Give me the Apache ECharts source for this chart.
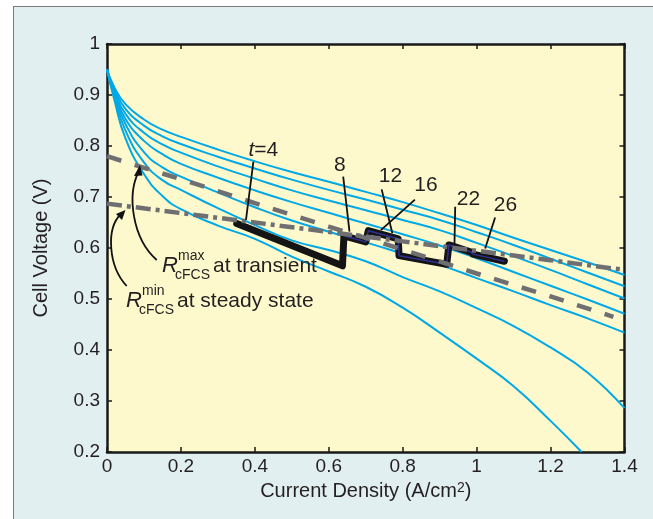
<!DOCTYPE html>
<html><head><meta charset="utf-8">
<script src="https://cdn.jsdelivr.net/npm/echarts@6/dist/echarts.min.js"></script>
<style>
html,body{margin:0;padding:0;background:#fff;width:653px;height:519px;overflow:hidden;position:relative}
#frame{position:absolute;left:13px;top:6px;width:700px;height:600px;background:#e2eff1;border:1px solid #7a7a7a;box-sizing:border-box}
#c{position:absolute;left:0;top:0;width:653px;height:519px}
</style>
</head><body><div id="frame"></div><div id="c"></div><script>
// ---- data ----
const xs = [0,0.02,0.05,0.1,0.15,0.2,0.3,0.4,0.5,0.6,0.7,0.8,0.9,1.0,1.1,1.2,1.3,1.4];
const curve1 = [0.95,0.915,0.882,0.852,0.832,0.818,0.793,0.770,0.749,0.730,0.710,0.690,0.668,0.645,0.620,0.596,0.572,0.547];
const curve2 = [0.95,0.911,0.873,0.840,0.819,0.804,0.779,0.756,0.734,0.714,0.695,0.675,0.655,0.631,0.606,0.579,0.552,0.525];
const curve3 = [0.95,0.907,0.863,0.826,0.803,0.787,0.760,0.736,0.713,0.693,0.674,0.655,0.635,0.610,0.584,0.557,0.529,0.501];
const curve4 = [0.95,0.903,0.853,0.810,0.784,0.765,0.738,0.713,0.690,0.669,0.648,0.627,0.605,0.580,0.553,0.526,0.499,0.471];
const curve5 = [0.95,0.900,0.843,0.788,0.758,0.740,0.709,0.680,0.654,0.632,0.611,0.589,0.567,0.541,0.515,0.488,0.462,0.434];
const curve6 = [0.95,0.895,0.830,0.768,0.733,0.714,0.678,0.645,0.615,0.596,0.574,0.543,0.515,0.482,0.447,0.405,0.356,0.286];
const xs7 = [0,0.02,0.05,0.1,0.15,0.2,0.3,0.4,0.5,0.6,0.7,0.8,0.9,1.0,1.1,1.2,1.284];
const curve7 = [0.95,0.890,0.815,0.745,0.702,0.676,0.644,0.618,0.583,0.554,0.524,0.483,0.434,0.383,0.329,0.261,0.2];

const maxTransX = [0,0.1,0.2,0.4,0.6,0.8,1.0,1.2,1.37];
const maxTransV = [0.780,0.757,0.735,0.688,0.642,0.597,0.550,0.505,0.465];
const minSteadyX = [0,0.4,0.8,1.2,1.4];
const minSteadyV = [0.687,0.650,0.613,0.576,0.557];

const trajX = [0.351,0.637,0.641,0.700,0.707,0.788,0.790,0.919,0.925,0.985,0.990,1.075];
const trajV = [0.648,0.565,0.624,0.612,0.634,0.618,0.585,0.568,0.606,0.592,0.588,0.574];

const xTicks = [0,0.2,0.4,0.6,0.8,1,1.2,1.4];
const yTicks = [0.2,0.3,0.4,0.5,0.6,0.7,0.8,0.9,1];

// labels of time instants with leader lines (data coords)
const tLabels = ['t=4','8','12','16','22','26'];
const tLabelPos = [[0.423,0.792],[0.630,0.762],[0.767,0.741],[0.863,0.723],[0.978,0.696],[1.078,0.683]];
const tLeaders = [
  [[0.396,0.769],[0.376,0.655]],
  [[0.639,0.740],[0.656,0.632]],
  [[0.743,0.715],[0.772,0.629]],
  [[0.833,0.695],[0.741,0.635]],
  [[0.942,0.681],[0.940,0.606]],
  [[1.050,0.660],[1.023,0.599]]
];

const FONT = '"Liberation Sans", Arial, Helvetica, sans-serif';
const BLUE = '#00a9e6';
const GREY = '#6f6f71';

const zip = (a,b)=>a.map((x,i)=>[x,b[i]]);
const chart = echarts.init(document.getElementById('c'), null, {renderer:'canvas'});

const blueSeries = [curve1,curve2,curve3,curve4,curve5,curve6].map(c=>({
  type:'line', data: zip(xs,c), smooth:0.5, symbol:'none',
  lineStyle:{color:BLUE,width:2}, z:2, silent:true
}));
blueSeries.push({type:'line', data: zip(xs7,curve7), smooth:0.5, symbol:'none',
  lineStyle:{color:BLUE,width:2}, z:2, silent:true});

const leaderSeries = tLeaders.map(l=>({type:'line', data:l, symbol:'none', lineStyle:{color:'#111',width:1.8}, z:6, silent:true}));

const axisCommon = {
  type:'value', splitLine:{show:false},
  axisLine:{show:true, onZero:false, lineStyle:{color:'#1a1a1a', width:2.5}},
  axisTick:{show:true, inside:true, length:5, lineStyle:{color:'#1a1a1a', width:1.5}}
};

chart.setOption({
  animation:false,
  grid:{left:107, top:44, width:517.5, height:408, show:true, backgroundColor:'#fef9cc', borderWidth:0},
  xAxis:[
    Object.assign({}, axisCommon, {min:0, max:1.4, interval:0.2, position:'bottom',
      axisLabel:{fontFamily:FONT, fontSize:19, color:'#231f20', margin:5, formatter:v=>String(+v.toFixed(1))},
      name:'{a|Current Density (A/cm}{s|2}{a|)}', nameLocation:'middle', nameGap:27,
      nameTextStyle:{rich:{a:{fontFamily:FONT, fontSize:20, color:'#231f20'}, s:{fontFamily:FONT, fontSize:14, color:'#231f20', padding:[0,0,8,0]}}}
    }),
    Object.assign({}, axisCommon, {min:0, max:1.4, interval:0.2, position:'top', axisLabel:{show:false}})
  ],
  yAxis:[
    Object.assign({}, axisCommon, {min:0.2, max:1, interval:0.1, position:'left',
      axisLabel:{fontFamily:FONT, fontSize:19, color:'#231f20', margin:7, formatter:v=>String(+v.toFixed(1))},
      name:'Cell Voltage (V)', nameLocation:'middle', nameGap:56,
      nameTextStyle:{fontFamily:FONT, fontSize:20, color:'#231f20'}
    }),
    Object.assign({}, axisCommon, {min:0.2, max:1, interval:0.1, position:'right', axisLabel:{show:false}})
  ],
  series: blueSeries.concat([
    {type:'line', data: zip(trajX,trajV), symbol:'none', lineStyle:{color:'#141414', width:7, join:'round', cap:'round'}, z:3, silent:true},
    {type:'line', data: zip(trajX.slice(2),trajV.slice(2)), symbol:'none', lineStyle:{color:'#2e3192', width:1.5, join:'round'}, z:4, silent:true},
    {type:'line', data: zip(maxTransX,maxTransV), symbol:'none', lineStyle:{color:GREY, width:4.5, type:[15,14]}, z:5, silent:true},
    {type:'line', data: zip(minSteadyX,minSteadyV), symbol:'none', lineStyle:{color:GREY, width:4.5, type:[15,5,4,5]}, z:5, silent:true}
  ]).concat(leaderSeries)
});

// annotation texts
const g = [];
tLabels.forEach((t,i)=>{
  const p = chart.convertToPixel({gridIndex:0}, tLabelPos[i]);
  if (t.startsWith('t=')) {
    g.push({type:'text', x:p[0], y:p[1], style:{text:'{i|t}{n|=4}', align:'center', verticalAlign:'middle',
      rich:{i:{fontFamily:FONT, fontSize:21, fontStyle:'italic', fill:'#231f20'}, n:{fontFamily:FONT, fontSize:21, fill:'#231f20'}}}, z:10});
  } else {
    g.push({type:'text', x:p[0], y:p[1], style:{text:t, font:'21px '+FONT, fill:'#231f20', align:'center', verticalAlign:'middle'}, z:10});
  }
});
function rlabel(x, y, sup, rest){
  g.push({type:'text', x:x, y:y, style:{text:'R', font:'italic 22px '+FONT, fill:'#231f20', align:'left', verticalAlign:'bottom'}, z:10});
  g.push({type:'text', x:x+16, y:y-14, style:{text:sup, font:'14px '+FONT, fill:'#231f20', align:'left', verticalAlign:'bottom'}, z:10});
  g.push({type:'text', x:x+13, y:y+5, style:{text:'cFCS', font:'14px '+FONT, fill:'#231f20', align:'left', verticalAlign:'bottom'}, z:10});
  g.push({type:'text', x:x+51, y:y, style:{text:rest, font:'21px '+FONT, fill:'#231f20', align:'left', verticalAlign:'bottom'}, z:10});
}
rlabel(162, 277, 'max', 'at transient');
rlabel(126, 312, 'min', 'at steady state');
// curved arrows
g.push({type:'bezierCurve', shape:{x1:156.7,y1:260,cpx1:132,cpy1:238,cpx2:127,cpy2:195,x2:138.5,y2:172}, style:{stroke:'#111', lineWidth:1.8, fill:null}, z:10});
g.push({type:'polygon', shape:{points:[[140,165],[134,176],[142.5,175.5]]}, style:{fill:'#111'}, z:10});
g.push({type:'bezierCurve', shape:{x1:126.7,y1:286,cpx1:108,cpy1:266,cpx2:106,cpy2:228,x2:121,y2:214}, style:{stroke:'#111', lineWidth:1.8, fill:null}, z:10});
g.push({type:'polygon', shape:{points:[[125.5,210],[116,214],[122,220]]}, style:{fill:'#111'}, z:10});
chart.setOption({graphic:g});
</script></body></html>
